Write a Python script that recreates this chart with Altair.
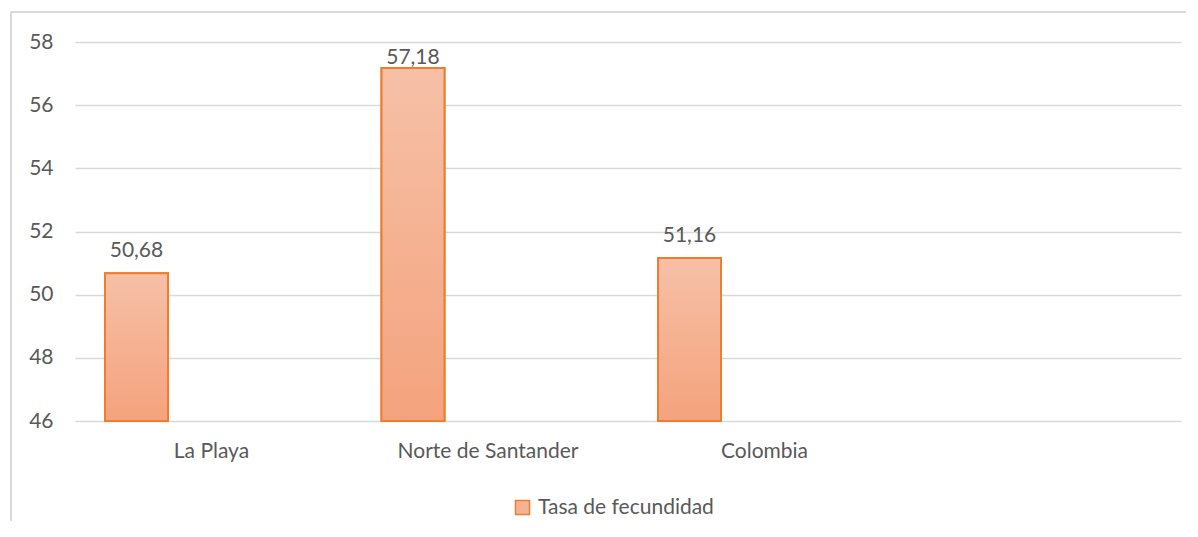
import altair as alt
import pandas as pd

categories = ["La Playa", "Norte de Santander", "Colombia"]
values = [50.68, 57.18, 51.16]
series_name = "Tasa de fecundidad"
y_ticks = [46, 48, 50, 52, 54, 56, 58]
y_min, y_max = 46, 58

df = pd.DataFrame({"cat": categories, "v": values, "serie": [series_name] * 3})

FONT = "Lato"
FS = 21
TXT = "#595959"
GRID = "#d9d9d9"
ORANGE = "#ED7D31"
grad = {
    "gradient": "linear",
    "x1": 0, "y1": 0, "x2": 0, "y2": 1,
    "stops": [
        {"offset": 0, "color": "#F6C0A7"},
        {"offset": 1, "color": "#F4A37D"},
    ],
}

W, H = 1106, 379

x_axis = alt.Axis(
    title=None, labelAngle=0, domain=False, ticks=False, grid=False,
    labelOffset=75, labelPadding=19, labelFont=FONT, labelFontSize=FS,
    labelColor=TXT, labelLimit=0,
)
y_axis = alt.Axis(
    title=None, values=y_ticks, domain=False, ticks=False,
    labelPadding=22, labelFont=FONT, labelFontSize=FS, labelColor=TXT,
    gridColor=GRID, gridWidth=1.5,
)
x_enc = alt.X(
    "cat:N",
    sort=categories,
    scale=alt.Scale(paddingInner=0.7722, paddingOuter=0.886, align=0.0612),
    axis=x_axis,
)
y_scale = alt.Scale(domain=[y_min, y_max], nice=False, zero=False)

base = alt.Chart(df)

bars_legend = base.mark_bar(stroke=ORANGE, strokeWidth=2).encode(
    x=x_enc,
    y=alt.Y("v:Q", scale=y_scale, axis=y_axis),
    y2=alt.datum(y_min),
    color=alt.Color(
        "serie:N",
        scale=alt.Scale(range=["#F5B394"]),
        legend=alt.Legend(
            title=None, orient="none", legendX=437, legendY=455,
            symbolType="square", symbolSize=196, symbolStrokeColor=ORANGE,
            symbolStrokeWidth=1.5, labelFont=FONT, labelFontSize=FS,
            labelColor=TXT, labelOffset=5, labelLimit=0,
        ),
    ),
)

bars_grad = base.mark_bar(fill=grad, stroke=ORANGE, strokeWidth=2).encode(
    x=alt.X("cat:N", sort=categories, axis=x_axis),
    y=alt.Y("v:Q", scale=y_scale, axis=y_axis),
    y2=alt.datum(y_min),
)

labels = base.transform_calculate(
    lbl="replace(format(datum.v, '.2f'), '.', ',')",
    ly="min(datum.v + 0.5, 57.3)",
).mark_text(
    baseline="alphabetic", align="center", font=FONT, fontSize=FS, color=TXT
).encode(
    x=alt.X("cat:N", sort=categories, axis=x_axis),
    y=alt.Y("ly:Q", scale=y_scale, axis=y_axis),
    text="lbl:N",
)

frame_top = base.mark_rule(color=GRID, strokeWidth=1.5).encode(
    x=alt.value(-64), x2=alt.value(W + 30), y=alt.value(-30)
)
frame_left = base.mark_rule(color=GRID, strokeWidth=1.5).encode(
    x=alt.value(-64), y=alt.value(-30), y2=alt.value(H + 120)
)

chart = (
    alt.layer(
        frame_top, frame_left, bars_legend, bars_grad, labels,
        view=alt.ViewBackground(strokeWidth=0, strokeOpacity=0),
    )
    .properties(
        width=W, height=H,
        autosize=alt.AutoSizeParams(type="none"),
        padding={"left": 67, "top": 34, "right": 5, "bottom": 100},
    )
    .configure_view(strokeWidth=0, strokeOpacity=0)
    .configure_axis(domain=False, ticks=False)
    .configure(background="white")
)

chart.save("out.html", embed_options={"renderer": "svg", "actions": False})
